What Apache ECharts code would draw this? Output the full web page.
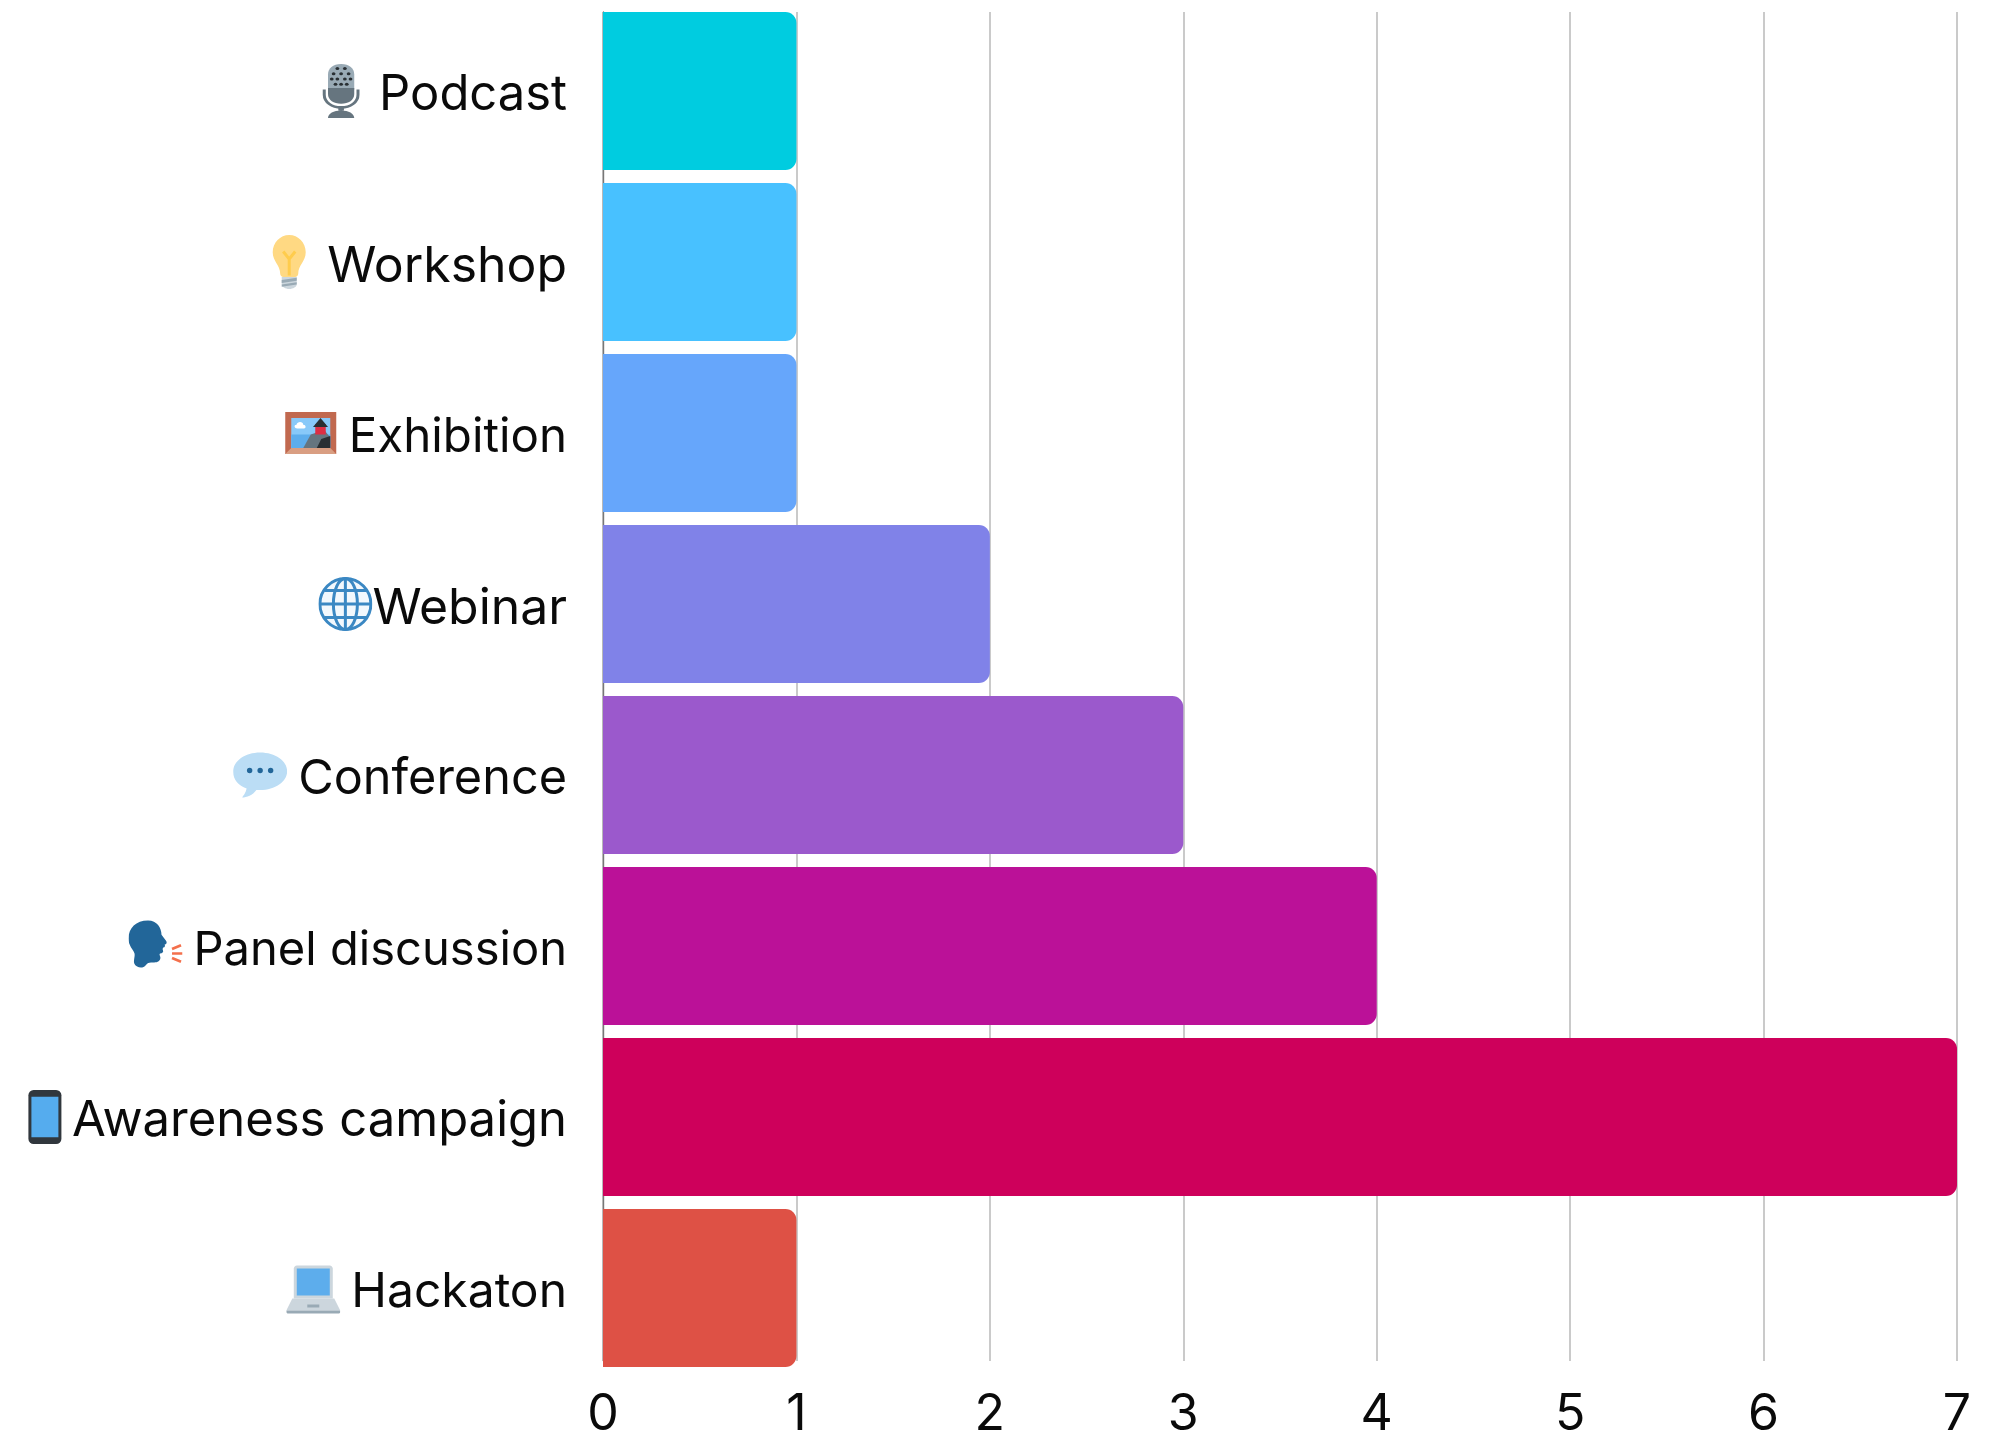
<!DOCTYPE html>
<html>
<head>
<meta charset="utf-8">
<style>html,body{margin:0;padding:0;background:#fff}#c{width:1998px;height:1440px}</style>
<script src="https://cdn.jsdelivr.net/npm/echarts@6/dist/echarts.min.js"></script>
</head>
<body>
<div id="c"></div>
<script>
const categories = ["Podcast","Workshop","Exhibition","Webinar","Conference","Panel discussion","Awareness campaign","Hackaton"];
const values = [1,1,1,2,3,4,7,1];
const barColors = ["#00CCE0","#48C1FF","#66A6FB","#8082E8","#9B59CC","#BB1198","#CE005B","#DE5145"];
const xTicks = [0,1,2,3,4,5,6,7];
const labelFontSizes = [48.9,49.9,47.5,49.9,48.6,47.1,49,48];

const svg = b => 'data:image/svg+xml;charset=utf-8,' + encodeURIComponent('<svg xmlns="http://www.w3.org/2000/svg" width="216" height="216" viewBox="0 0 36 36">' + b + '</svg>');
const icons = {
 Podcast: svg('<g transform="translate(18 0) scale(1.25 1) translate(-18 0)"><path fill="#99AAB5" d="M18 0c-4.4 0-7 3-7 7v10h14V7c0-4-2.600-7-7-7z"/><path fill="#66757F" d="M11 16v4c0 4 3 6.500 7 6.500s7-2.500 7-6.500v-4z"/><path fill="none" stroke="#66757F" stroke-width="1.600" d="M9 17v3.500C9 25.500 13 29 18 29s9-3.500 9-8.500V17"/><path fill="#66757F" d="M16.500 28h3v3h-3zM11 36c0-3 3-5 7-5s7 2 7 5z"/><g fill="#292F33"><circle cx="16" cy="3" r="1"/><circle cx="20" cy="3" r="1"/><circle cx="14" cy="6.500" r="1"/><circle cx="18" cy="6.500" r="1"/><circle cx="22" cy="6.500" r="1"/><circle cx="13" cy="10" r="1"/><circle cx="16" cy="10" r="1"/><circle cx="20" cy="10" r="1"/><circle cx="23" cy="10" r="1"/><circle cx="15" cy="13.500" r="1"/><circle cx="18" cy="13.500" r="1"/><circle cx="21" cy="13.500" r="1"/></g></g>'),
 Workshop: svg('<path fill="#FFD983" d="M29 11.500C29 17.500 24 20 24 26c0 1-1 2-2 2h-8c-1 0-2-1-2-2 0-6-5-8.500-5-14.500C7 5 12 0 18 0s11 5 11 11.500z"/><path fill="none" stroke="#FFCC4D" stroke-width="2" d="M18 27V16l-4-5M18 16l4-5"/><path fill="#CCD6DD" d="M13 28h10v5c0 1.500-2.500 3-5 3s-5-1.500-5-3z"/><path fill="#99AAB5" d="M13 30l10-1.500v2L13 32zM13 33l10-1.500v1.500l-10 1.500z"/>'),
 Exhibition: svg('<path fill="#C1694F" d="M1 4h34v28H1z"/><path fill="#D99E82" d="M1 32l4-4h26l4 4z"/><path fill="#88C9F9" d="M5 8h26v20H5z"/><path fill="#5DADEC" d="M5 19h26v9H5z"/><path fill="#66757F" d="M13 28l5-9 9-3 4 5v7z"/><path fill="#292F33" d="M22 28l3-6 6-2v8z"/><path fill="#DD2E44" d="M21 12h7v7h-7z"/><path fill="#292F33" d="M24.500 8l5 6h-10z"/><path fill="#fff" d="M9 15c-2 0-2.500-2.500-.5-2.500C9 10 13 10 13 12.500c2 0 2 2.500.500 2.500z"/>'),
 Webinar: svg('<circle cx="18" cy="18" r="17" fill="#F2F8FD" stroke="#3B88C3" stroke-width="2"/><g fill="none" stroke="#3B88C3" stroke-width="2"><ellipse cx="18" cy="18" rx="8" ry="17"/><path d="M18 1v34M1 18h34M4 9h28M4 27h28"/></g>'),
 Conference: svg('<path fill="#BBDDF5" d="M18 3C8 3 0 8.500 0 16c0 5 3.500 9 9 11-.5 3-2.500 5-3 6 3 0 7-1.500 9.500-5 1 .1 1.500 0 2.500 0 10 0 18-5.500 18-12.500S28 3 18 3z"/><g fill="#269"><circle cx="11" cy="15" r="1.800"/><circle cx="18" cy="15" r="1.800"/><circle cx="25" cy="15" r="1.800"/></g>'),
 "Panel discussion": svg('<path fill="#269" d="M13 1C5 1 0 6 0 13c0 5 3 7 4 10 .5 2-1 5 0 7s4 3 6 2 2-3 5-3 5 0 6-2-1-3 0-4c1.500 0 2.500-1 2-2s0-1.500 0-2c1.500 0 1.500-1.500 1-2 1 0 2-1 1-2.500l-3-4C22 6 19 1 13 1z"/><g fill="none" stroke="#F4704C" stroke-width="1.800"><path d="M29 20l6-2.500M29 23h7M29 26l6 2.500"/></g>'),
 "Awareness campaign": svg('<rect x="7" y="0" width="22" height="36" rx="3.500" fill="#31373D"/><rect x="9" y="4.500" width="18" height="27" fill="#55ACEE"/>'),
 Hackaton: svg('<path fill="#CCD6DD" d="M5 5c0-1 1-2 2-2h22c1 0 2 1 2 2v20H5z"/><path fill="#5DADEC" d="M7 5h22v18H7z"/><path fill="#CCD6DD" d="M4 25h28l4 8H0z"/><path fill="#99AAB5" d="M0 33h36v1c0 1-1 1-1 1H1s-1 0-1-1zM14 29h8v2h-8z"/>')
};
const noGap = ["Webinar", "Awareness campaign"];

const rich = { s: { width: 11, height: 10 } };
categories.forEach((c, i) => {
  rich['i' + i] = { width: 54, height: 54, backgroundColor: { image: icons[c] } };
  rich['t' + i] = { fontFamily: 'Inter', fontSize: labelFontSizes[i], color: '#0a0a0a', lineHeight: 60, padding: [9,0,0,0] };
});

const chart = echarts.init(document.getElementById('c'), null, { renderer: 'canvas', width: 1998, height: 1440 });
chart.setOption({
  animation: false,
  backgroundColor: '#ffffff',
  grid: [
    { left: 603, right: 41, top: 12, height: 1355 },
    { left: 603, right: 41, top: 5.5, height: 1368 }
  ],
  xAxis: [
    { gridIndex: 0, type: 'value', min: 0, max: 7, interval: 1,
      axisLine: { show: false }, axisTick: { show: false },
      axisLabel: { margin: 29, fontFamily: 'Inter', fontSize: 50, color: '#0a0a0a', verticalAlign: 'top', customValues: xTicks },
      splitLine: { show: true, lineStyle: { color: '#BDBDBD', width: 1.6 } } },
    { gridIndex: 1, type: 'value', min: 0, max: 7, interval: 1, show: false }
  ],
  yAxis: [
    { gridIndex: 0, type: 'category', inverse: true, data: categories,
      axisLine: { show: true, lineStyle: { color: '#777777', width: 1.4 } }, axisTick: { show: false }, axisLabel: { show: false } },
    { gridIndex: 1, type: 'category', inverse: true, data: categories,
      axisLine: { show: false }, axisTick: { show: false },
      axisLabel: { margin: 36, interval: 0, align: 'right', rich,
        formatter: (v, i) => '{i' + i + '|}' + (noGap.includes(v) ? '' : '{s|}') + '{t' + i + '|' + v + '}' } }
  ],
  series: [{
    type: 'bar', xAxisIndex: 1, yAxisIndex: 1, barWidth: 158, silent: true,
    itemStyle: { borderRadius: [0, 11, 11, 0] },
    data: values.map((v, i) => ({ value: v, itemStyle: { color: barColors[i] } }))
  }]
});
</script>
</body>
</html>
